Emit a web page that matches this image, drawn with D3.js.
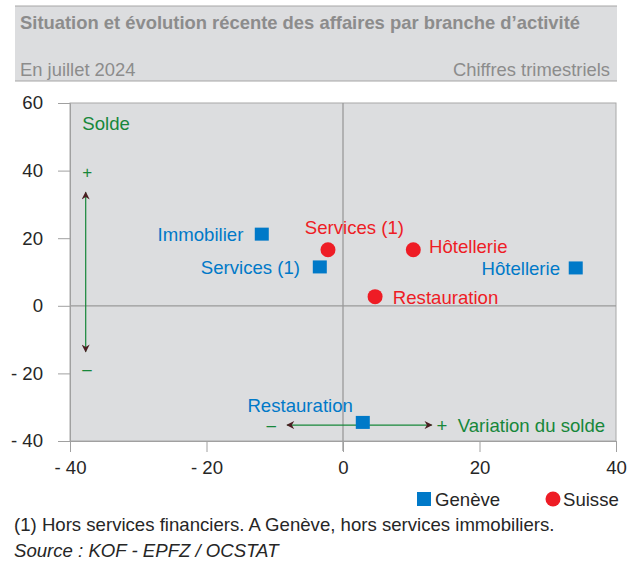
<!DOCTYPE html>
<html>
<head>
<meta charset="utf-8">
<script src="https://cdn.jsdelivr.net/npm/d3@7"></script>
<style>
  body { margin: 0; background: #fff; }
  text { font-family: "Liberation Sans", Arial, sans-serif; }
</style>
</head>
<body>
<div id="chart"></div>
<script>
const width = 638;
const height = 564;

// données
const geneve = [
  { name: "Immobilier", x: -11.9, y: 21.2 },
  { name: "Services (1)", x: -3.4, y: 11.5 },
  { name: "Hôtellerie", x: 34.1, y: 11.2 },
  { name: "Restauration", x: 2.9, y: -34.5 }
];
const suisse = [
  { name: "Services (1)", x: -2.2, y: 16.6 },
  { name: "Hôtellerie", x: 10.3, y: 16.6 },
  { name: "Restauration", x: 4.7, y: 2.7 }
];
const xTicks = [-40, -20, 0, 20, 40];
const yTicks = [-40, -20, 0, 20, 40, 60];

// position des étiquettes (en unités du graphique)
const geneveLabels = [
  { text: "Immobilier", x: -14.6, y: 21.2, anchor: "end" },
  { text: "Services (1)", x: -6.3, y: 11.5, anchor: "end" },
  { text: "Hôtellerie", x: 31.8, y: 11.2, anchor: "end" },
  { text: "Restauration", x: -14, y: -29.4, anchor: "start" }
];
const suisseLabels = [
  { text: "Services (1)", x: -5.6, y: 23.1, anchor: "start" },
  { text: "Hôtellerie", x: 12.6, y: 17.6, anchor: "start" },
  { text: "Restauration", x: 7.3, y: 2.6, anchor: "start" }
];

const blue = "#0079c8";
const red = "#ee1c25";
const green = "#17873a";
const greyBg = "#dcdddf";
const fs = "18.6px";

const svg = d3.select('#chart').append('svg')
  .attr('width', width)
  .attr('height', height);

// bandeau titre
svg.append("rect")
  .attr("x", 15).attr("y", 6)
  .attr("width", 602).attr("height", 75)
  .attr("fill", greyBg);
svg.append("line")
  .attr("x1", 15).attr("x2", 617).attr("y1", 6).attr("y2", 6)
  .attr("stroke", "#a6a6a6").attr("stroke-width", 1);
svg.append("line")
  .attr("x1", 15).attr("x2", 617).attr("y1", 81).attr("y2", 81)
  .attr("stroke", "#a6a6a6").attr("stroke-width", 1.2);
svg.append("text")
  .attr("x", 20).attr("y", 29)
  .style("font-size", "18.4px").style("font-weight", "bold")
  .attr("fill", "#8c8c8c")
  .text("Situation et évolution récente des affaires par branche d’activité");
svg.append("text")
  .attr("x", 20).attr("y", 76)
  .style("font-size", "18.4px")
  .attr("fill", "#8c8c8c")
  .text("En juillet 2024");
svg.append("text")
  .attr("x", 610).attr("y", 76)
  .attr("text-anchor", "end")
  .style("font-size", "18.4px")
  .attr("fill", "#8c8c8c")
  .text("Chiffres trimestriels");

// échelles
const xScale = d3.scaleLinear().domain([-40, 40]).range([70, 616]);
const yScale = d3.scaleLinear().domain([-40, 60]).range([441, 103]);

const plot = svg.append("g");
plot.append("rect")
  .attr("x", xScale(-40)).attr("y", yScale(60))
  .attr("width", xScale(40) - xScale(-40))
  .attr("height", yScale(-40) - yScale(60))
  .attr("fill", greyBg)
  .attr("stroke", "#a8a8a8");

// axes
const yAxis = d3.axisLeft(yScale)
  .tickValues(yTicks)
  .tickSize(12)
  .tickPadding(15)
  .tickFormat(d => d < 0 ? "- " + Math.abs(d) : d);
const xAxis = d3.axisBottom(xScale)
  .tickValues(xTicks)
  .tickSize(11)
  .tickPadding(9)
  .tickFormat(d => d < 0 ? "- " + Math.abs(d) : d);

const gy = svg.append("g")
  .attr("transform", `translate(${xScale(-40)},0)`)
  .call(yAxis);
const gx = svg.append("g")
  .attr("transform", `translate(0,${yScale(-40)})`)
  .call(xAxis);
[gx, gy].forEach(g => {
  g.select(".domain").attr("stroke", "#a0a0a0");
  g.selectAll(".tick line").attr("stroke", "#a0a0a0");
  g.selectAll(".tick text")
    .attr("fill", "#262626")
    .style("font-size", fs)
    .style("font-family", '"Liberation Sans", Arial, sans-serif');
});

// lignes du zéro
plot.append("line")
  .attr("x1", xScale(0)).attr("x2", xScale(0))
  .attr("y1", yScale(60)).attr("y2", yScale(-40) + 10)
  .attr("stroke", "#9a9a9a").attr("stroke-width", 1.3);
plot.append("line")
  .attr("x1", xScale(-40)).attr("x2", xScale(40))
  .attr("y1", yScale(0)).attr("y2", yScale(0))
  .attr("stroke", "#9a9a9a").attr("stroke-width", 1.3);

// flèches
const defs = svg.append("defs");
defs.append("marker")
  .attr("id", "arr")
  .attr("viewBox", "0 0 10 10")
  .attr("refX", 9).attr("refY", 5)
  .attr("markerWidth", 10).attr("markerHeight", 8)
  .attr("markerUnits", "userSpaceOnUse")
  .attr("orient", "auto-start-reverse")
  .append("path")
  .attr("d", "M0,0 L10,5 L0,10 L3,5 Z")
  .attr("fill", "#4a1f22");

const vArrow = [{ x: -37.7, y1: 33.6, y2: -13.6 }];
const hArrow = [{ y: -35.3, x1: -8.2, x2: 13 }];

plot.selectAll("line.varrow")
  .data(vArrow)
  .enter().append("line")
  .attr("class", "varrow")
  .attr("x1", d => xScale(d.x)).attr("x2", d => xScale(d.x))
  .attr("y1", d => yScale(d.y1)).attr("y2", d => yScale(d.y2))
  .attr("stroke", green).attr("stroke-width", 1.2)
  .attr("marker-start", "url(#arr)")
  .attr("marker-end", "url(#arr)");
plot.selectAll("line.harrow")
  .data(hArrow)
  .enter().append("line")
  .attr("class", "harrow")
  .attr("x1", d => xScale(d.x1)).attr("x2", d => xScale(d.x2))
  .attr("y1", d => yScale(d.y)).attr("y2", d => yScale(d.y))
  .attr("stroke", green).attr("stroke-width", 1.2)
  .attr("marker-start", "url(#arr)")
  .attr("marker-end", "url(#arr)");

// annotations vertes
const greenNotes = [
  { text: "Solde", x: -38.2, y: 54.1, size: 18.6 },
  { text: "+", x: -38.2, y: 39.5, size: 17 },
  { text: "–", x: -38.2, y: -18.8, size: 17 },
  { text: "–", x: -11.2, y: -35.3, size: 17 },
  { text: "+  Variation du solde", x: 13.7, y: -35.3, size: 18.6 }
];
plot.selectAll("text.note")
  .data(greenNotes)
  .enter().append("text")
  .attr("class", "note")
  .attr("x", d => xScale(d.x)).attr("y", d => yScale(d.y))
  .attr("dy", "0.36em")
  .attr("fill", green)
  .style("font-size", d => d.size + "px")
  .style("white-space", "pre")
  .text(d => d.text);

// points Genève
plot.selectAll("rect.ge")
  .data(geneve)
  .enter().append("rect")
  .attr("class", "ge")
  .attr("x", d => xScale(d.x) - 7)
  .attr("y", d => yScale(d.y) - 6.5)
  .attr("width", 14).attr("height", 13)
  .attr("fill", blue);

// points Suisse
plot.selectAll("circle.ch")
  .data(suisse)
  .enter().append("circle")
  .attr("class", "ch")
  .attr("cx", d => xScale(d.x))
  .attr("cy", d => yScale(d.y))
  .attr("r", 7.5)
  .attr("fill", red);

plot.selectAll("text.gelab")
  .data(geneveLabels)
  .enter().append("text")
  .attr("class", "gelab")
  .attr("x", d => xScale(d.x)).attr("y", d => yScale(d.y))
  .attr("dy", "0.36em")
  .attr("text-anchor", d => d.anchor)
  .attr("fill", blue)
  .style("font-size", fs)
  .text(d => d.text);

plot.selectAll("text.chlab")
  .data(suisseLabels)
  .enter().append("text")
  .attr("class", "chlab")
  .attr("x", d => xScale(d.x)).attr("y", d => yScale(d.y))
  .attr("dy", "0.36em")
  .attr("text-anchor", d => d.anchor)
  .attr("fill", red)
  .style("font-size", fs)
  .text(d => d.text);

// légende
const legend = svg.append("g").attr("transform", "translate(0,499)");
legend.append("rect")
  .attr("x", 417).attr("y", -7)
  .attr("width", 14).attr("height", 14)
  .attr("fill", blue);
legend.append("text")
  .attr("x", 435).attr("dy", "0.36em")
  .style("font-size", fs).attr("fill", "#262626")
  .text("Genève");
legend.append("circle")
  .attr("cx", 553).attr("r", 7.5)
  .attr("fill", red);
legend.append("text")
  .attr("x", 563).attr("dy", "0.36em")
  .style("font-size", fs).attr("fill", "#262626")
  .text("Suisse");

// notes
svg.append("text")
  .attr("x", 14).attr("y", 531)
  .style("font-size", fs).attr("fill", "#262626")
  .text("(1) Hors services financiers. A Genève, hors services immobiliers.");
svg.append("text")
  .attr("x", 14).attr("y", 557)
  .style("font-size", fs).style("font-style", "italic")
  .attr("fill", "#262626")
  .text("Source : KOF - EPFZ / OCSTAT");
</script>
</body>
</html>
